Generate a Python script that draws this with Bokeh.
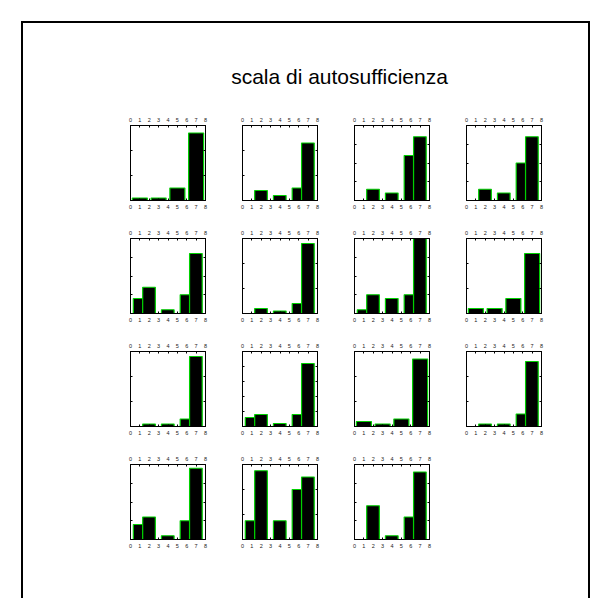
from bokeh.plotting import figure
from bokeh.layouts import column, row
from bokeh.models import Range1d, LinearAxis, FixedTicker, Label, Spacer
from bokeh.embed import file_html
from bokeh.resources import INLINE

TITLE = "scala di autosufficienza"

# x ticks shared by every small histogram
X_TICKS = [0, 1, 2, 3, 4, 5, 6, 7, 8]

# bin edges: items scored on 5 classes and items scored on 4 classes
BIN_LEFT_5 = [0.3, 1.3, 3.3, 5.3, 6.3]
BIN_RIGHT_5 = [1.3, 2.65, 4.65, 6.3, 7.65]
BIN_LEFT_4 = [0.2, 2.2, 4.2, 6.2]
BIN_RIGHT_4 = [1.8, 3.8, 5.8, 7.8]

# frequencies per item
item_01 = [1, 1, 5, 27]
item_02 = [0, 4, 2, 5, 23]
item_03 = [0, 3, 2, 12, 17]
item_04 = [0, 3, 2, 10, 17]
item_05 = [4, 7, 1, 5, 16]
item_06 = [0, 2, 1, 4, 28]
item_07 = [1, 5, 4, 5, 20]
item_08 = [2, 2, 6, 24]
item_09 = [0, 1, 1, 3, 28]
item_10 = [3, 4, 1, 4, 21]
item_11 = [2, 1, 3, 27]
item_12 = [0, 1, 1, 5, 26]
item_13 = [4, 6, 1, 5, 19]
item_14 = [3, 11, 3, 8, 10]
item_15 = [0, 9, 1, 6, 18]

ITEMS = [item_01, item_02, item_03, item_04, item_05, item_06, item_07, item_08,
         item_09, item_10, item_11, item_12, item_13, item_14, item_15]
Y_MAX = [30, 30, 20, 20, 20, 30, 20, 30, 30, 25, 30, 30, 20, 12, 20]
Y_STEP = [10, 10, 5, 5, 5, 10, 5, 10, 10, 5, 10, 10, 5, 4, 5]

FONT = "Liberation Sans"
BAR_EDGE = "#00d000"


def histogram(counts, ymax, ystep):
    if len(counts) == 4:
        left, right = BIN_LEFT_4, BIN_RIGHT_4
    else:
        left, right = BIN_LEFT_5, BIN_RIGHT_5
    p = figure(width=112, height=113, x_range=Range1d(0, 8), y_range=Range1d(0, ymax),
               output_backend="svg", toolbar_location=None,
               x_axis_location=None, y_axis_location=None,
               min_border_left=18, min_border_right=19,
               min_border_top=17, min_border_bottom=21)
    p.xgrid.visible = False
    p.ygrid.visible = False
    p.outline_line_color = "black"
    p.outline_line_width = 1
    for loc in ("above", "below"):
        ax = LinearAxis(ticker=FixedTicker(ticks=X_TICKS),
                        major_label_text_font=FONT, major_label_text_font_size="5.5px",
                        major_label_text_color="#222222", major_label_standoff=4,
                        major_tick_in=2, major_tick_out=0, minor_tick_line_color=None,
                        axis_line_color="black", major_tick_line_color="black")
        p.add_layout(ax, loc)
    yt = list(range(0, ymax + 1, ystep))
    for loc in ("left", "right"):
        ax = LinearAxis(ticker=FixedTicker(ticks=yt),
                        major_label_overrides={t: "" for t in yt},
                        major_label_standoff=0,
                        major_tick_in=2, major_tick_out=0, minor_tick_line_color=None,
                        axis_line_color="black", major_tick_line_color="black")
        p.add_layout(ax, loc)
    p.quad(left=left, right=right, bottom=0, top=counts,
           fill_color="black", line_color=BAR_EDGE, line_width=1.2)
    return p


head = figure(width=565, height=85, x_range=Range1d(0, 1), y_range=Range1d(0, 1),
              output_backend="svg", toolbar_location=None,
              x_axis_location=None, y_axis_location=None, min_border=0)
head.xgrid.visible = False
head.ygrid.visible = False
head.outline_line_color = None
head.add_layout(Label(x=316, y=32, x_units="screen", y_units="screen", text=TITLE,
                      text_font=FONT, text_font_size="21px", text_color="black",
                      text_align="center", text_baseline="middle"))

panels = [histogram(c, m, s) for c, m, s in zip(ITEMS, Y_MAX, Y_STEP)]

rows = []
for r in range(4):
    figs = panels[r * 4:(r + 1) * 4]
    pad = 565 - 89 - 112 * len(figs)
    rows.append(row(Spacer(width=89, height=113), *figs, Spacer(width=pad, height=113),
                    spacing=0))

root = column(head, *rows, Spacer(width=565, height=38), spacing=0,
              margin=(21, 0, 0, 21),
              styles={"border-left": "2px solid black", "border-top": "2px solid black",
                      "border-right": "2px solid black"})

open("out.html", "w").write(file_html(root, INLINE))
